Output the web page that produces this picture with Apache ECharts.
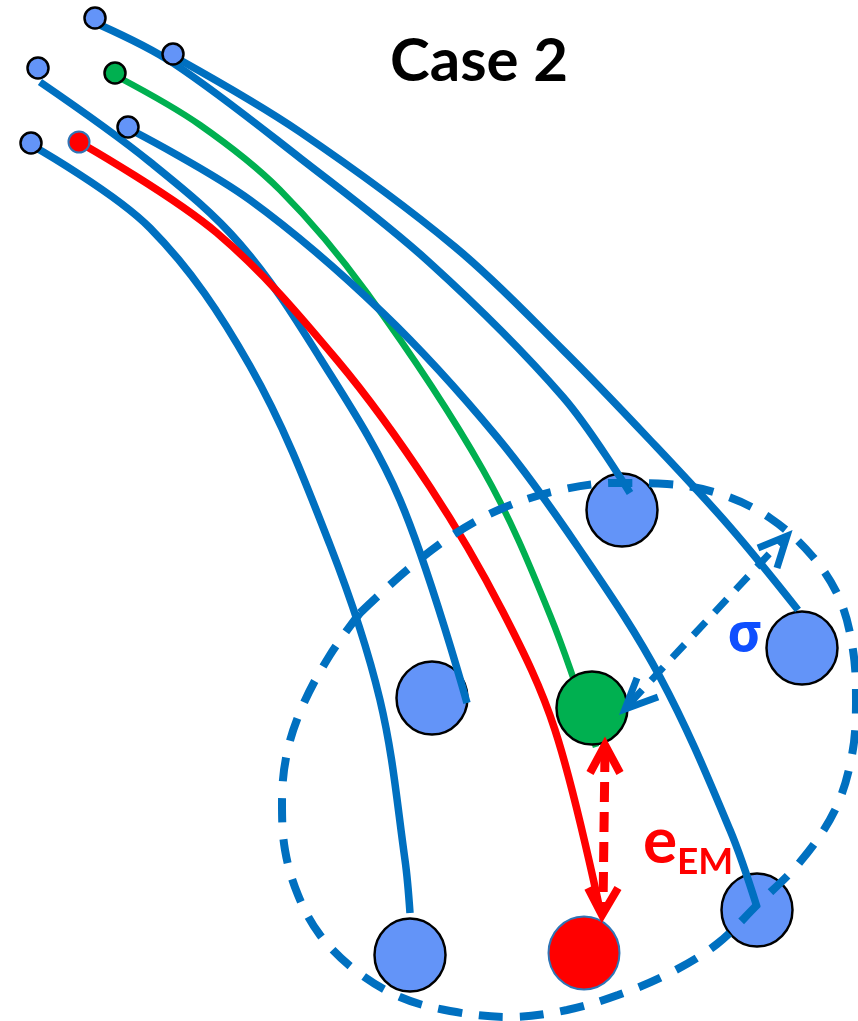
<!DOCTYPE html>
<html>
<head>
<meta charset="utf-8">
<title>Case 2</title>
<script src="https://cdn.jsdelivr.net/npm/echarts@6.0.0/dist/echarts.min.js"></script>
<style>
  html, body { margin: 0; padding: 0; background: #fff; }
  #chart { width: 858px; height: 1021px; }
</style>
</head>
<body>
<div id="chart"></div>
<script>
// trajectories (x, y in picture units, y down)
const trajTop = [[100,25],[173,63],[300,158],[430,263],[563,397],[630,493]];
const trajRight = [[180,60],[300,132],[455,247],[563,350],[650,440],[730,527],[798,610]];
const trajMid = [[135,132],[250,200],[383,313],[497,437],[580,550],[660,677],[730,830],[757,907]];
const trajInner = [[40,82],[150,162],[240,244],[320,358],[400,500],[467,703]];
const trajLeft = [[33,146],[150,228],[250,366],[330,545],[380,700],[405,860],[410,913]];
const trajGreen = [[120,78],[200,125],[280,190],[367,293],[483,470],[550,615],[596,747]];
const trajRed = [[84,145],[217,233],[337,360],[430,487],[503,612],[555,730],[600,910]];

// start and end points
const startBlue = [[95,18],[173,54],[38,68],[128,127],[31,143]];
const startGreen = [[115,73]];
const startRed = [[79,142]];
const endBlue = [[622,510],[802,648],[432,698],[410,955],[757,910]];
const endGreen = [[592,708]];
const endRed = [[584,953]];

// dashed spread ellipse
const spread = [[360,613],[407,570],[453,535],[503,508],[560,490],[615,483],[667,484],[720,494],[770,518],[813,557],
  [840,600],[853,650],[856,700],[852,755],[835,810],[800,862],[757,905],[717,944],[670,973],[618,995],[567,1010],
  [510,1017],[450,1011],[400,997],[355,970],[320,935],[298,895],[285,850],[282,803],[287,753],[303,705],[330,655],[360,613]];

// sigma and e_EM arrows
const sigmaShaft = [[630,703],[783,539]];
const sigmaHeadA = [[758,548],[787,536],[777,568]];
const sigmaHeadB = [[637,678],[625,709],[658,697]];
const errShaft = [[605,752],[603,908]];
const errHeadTop = [[590,773],[605,745],[620,773]];
const errHeadBottom = [[588,888],[602,915],[618,888]];

const BLUE = '#0070C0';
const GREEN = '#00B050';
const RED = '#FF0000';
const FILL = '#6394F8';

const chart = echarts.init(document.getElementById('chart'));

function curve(data, color, width, z) {
  return {
    type: 'line', data: data, smooth: 0.35, symbol: 'none', z: z, clip: false,
    lineStyle: { color: color, width: width, cap: 'butt' },
    silent: true
  };
}
function poly(data, color, width, z, dash) {
  return {
    type: 'line', data: data, smooth: false, symbol: 'none', z: z, clip: false,
    lineStyle: { color: color, width: width, type: dash || 'solid', join: 'miter', cap: 'butt' },
    silent: true
  };
}
function dots(data, size, fill, border, bw, z) {
  return {
    type: 'scatter', data: data, symbol: 'circle', symbolSize: size, z: z,
    itemStyle: { color: fill, borderColor: border, borderWidth: bw, opacity: 1 },
    silent: true
  };
}

const option = {
  animation: false,
  backgroundColor: '#fff',
  grid: { left: 0, right: 0, top: 0, bottom: 0 },
  xAxis: { type: 'value', min: 0, max: 858, show: false },
  yAxis: { type: 'value', min: 0, max: 1021, inverse: true, show: false },
  graphic: [
    { type: 'text', x: 479, y: 62, z: 10, style: { text: 'Case 2', fill: '#000', font: 'bold 60px Lato', align: 'center', verticalAlign: 'middle' } },
    { type: 'text', x: 745, y: 636, z: 10, style: { text: 'σ', fill: '#0F4FFF', font: 'bold 54px "Noto Sans"', align: 'center', verticalAlign: 'middle' } },
    { type: 'text', x: 660, y: 842, z: 10, style: { text: 'e', fill: RED, font: 'bold 64px Lato', align: 'center', verticalAlign: 'middle' } },
    { type: 'text', x: 705, y: 862, z: 10, style: { text: 'EM', fill: RED, font: 'bold 37px Lato', align: 'center', verticalAlign: 'middle' } }
  ],
  series: [
    curve(trajGreen, GREEN, 6.5, 2),
    dots(endBlue, [71, 73], FILL, '#000', 2.5, 3),
    dots(endGreen, [71, 73], GREEN, '#000', 2.5, 3),
    dots(endRed, [71, 73], RED, '#2E75B6', 2, 3),
    curve(trajTop, BLUE, 7.5, 4),
    curve(trajRight, BLUE, 7.5, 4),
    curve(trajMid, BLUE, 7.5, 4),
    curve(trajInner, BLUE, 7.5, 4),
    curve(trajLeft, BLUE, 7.5, 4),
    curve(trajRed, RED, 7.5, 4),
    dots(startBlue, [21, 21], FILL, '#000', 2.5, 5),
    dots(startGreen, [21, 21], GREEN, '#000', 2.5, 5),
    dots(startRed, [21, 21], RED, '#2E75B6', 2, 5),
    {
      type: 'line', data: spread, smooth: 0.35, symbol: 'none', z: 6, clip: false,
      lineStyle: { color: BLUE, width: 8, type: [24, 17], cap: 'butt' }, silent: true
    },
    poly(sigmaShaft, BLUE, 7, 7, [18, 13]),
    poly(sigmaHeadA, BLUE, 7, 7),
    poly(sigmaHeadB, BLUE, 7, 7),
    poly(errShaft, RED, 9, 7, [20, 10]),
    poly(errHeadTop, RED, 8, 7),
    poly(errHeadBottom, RED, 8, 7)
  ]
};
chart.setOption(option);
</script>
</body>
</html>
